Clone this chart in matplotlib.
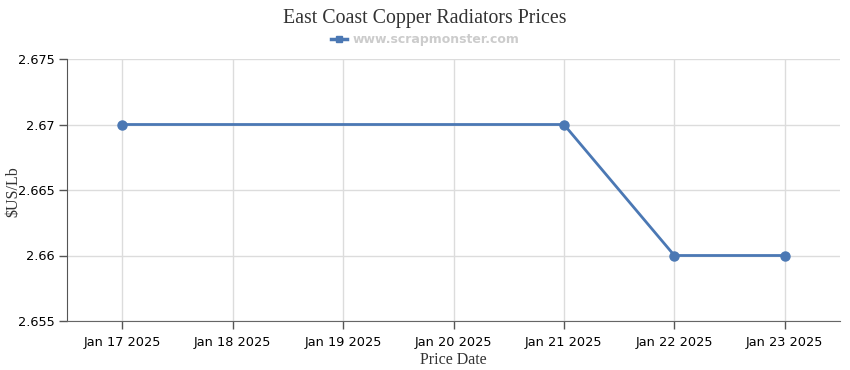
import matplotlib.pyplot as plt
from matplotlib.lines import Line2D
import datetime as dt

dates = ["2025-01-17", "2025-01-21", "2025-01-22", "2025-01-23"]
prices = [2.67, 2.67, 2.66, 2.66]
tick_days = ["2025-01-17", "2025-01-18", "2025-01-19", "2025-01-20",
             "2025-01-21", "2025-01-22", "2025-01-23"]
y_ticks = [2.655, 2.66, 2.665, 2.67, 2.675]
y_labels = ["2.655", "2.66", "2.665", "2.67", "2.675"]

x = [dt.datetime.strptime(d, "%Y-%m-%d") for d in dates]
xt = [dt.datetime.strptime(d, "%Y-%m-%d") for d in tick_days]

blue = "#4b78b4"
serif = ["Liberation Serif", "DejaVu Serif"]

fig = plt.figure(figsize=(8.5, 3.7), dpi=100)
ax = fig.add_axes([67 / 850, 49 / 370, 773 / 850, 262 / 370])

ax.plot(x, prices, color=blue, lw=2, marker="o", ms=6.5, zorder=3)

ax.set_xlim(xt[0] - dt.timedelta(hours=12), xt[-1] + dt.timedelta(hours=12))
ax.set_ylim(2.655, 2.675)
ax.set_xticks(xt)
ax.set_xticklabels([d.strftime("%b %d %Y") for d in xt])
ax.set_yticks(y_ticks)
ax.set_yticklabels(y_labels)

ax.grid(True, color="#dcdcdc", lw=1)
ax.set_axisbelow(True)
for s in ["top", "right"]:
    ax.spines[s].set_visible(False)
ax.spines["left"].set_color("#555555")
ax.spines["bottom"].set_color("#666666")
ax.tick_params(axis="both", labelsize=9.3, colors="#555555", labelcolor="black",
               length=6, width=1)
ax.tick_params(axis="x", pad=5)
ax.tick_params(axis="y", pad=3)

ax.set_xlabel("Price Date", family=serif, fontsize=11.5, color="#333333", labelpad=2)
fig.text(13 / 850, 178 / 370, "$US/Lb", family=serif, fontsize=11.5,
         color="#333333", rotation=90, ha="center", va="center")

fig.text(0.5, 0.951, "East Coast Copper Radiators Prices", family=serif,
         fontsize=14.3, color="#333333", ha="center", va="center")

handle = Line2D([], [], color=blue, lw=2.5, marker="s", ms=5)
leg = fig.legend([handle], ["www.scrapmonster.com"], loc="center",
                 bbox_to_anchor=(0.5, 0.893), frameon=False, handlelength=1.3,
                 handletextpad=0.4, prop={"weight": "bold", "size": 9})
for t in leg.get_texts():
    t.set_color("#cccccc")

fig.savefig("out.png", dpi=100)
